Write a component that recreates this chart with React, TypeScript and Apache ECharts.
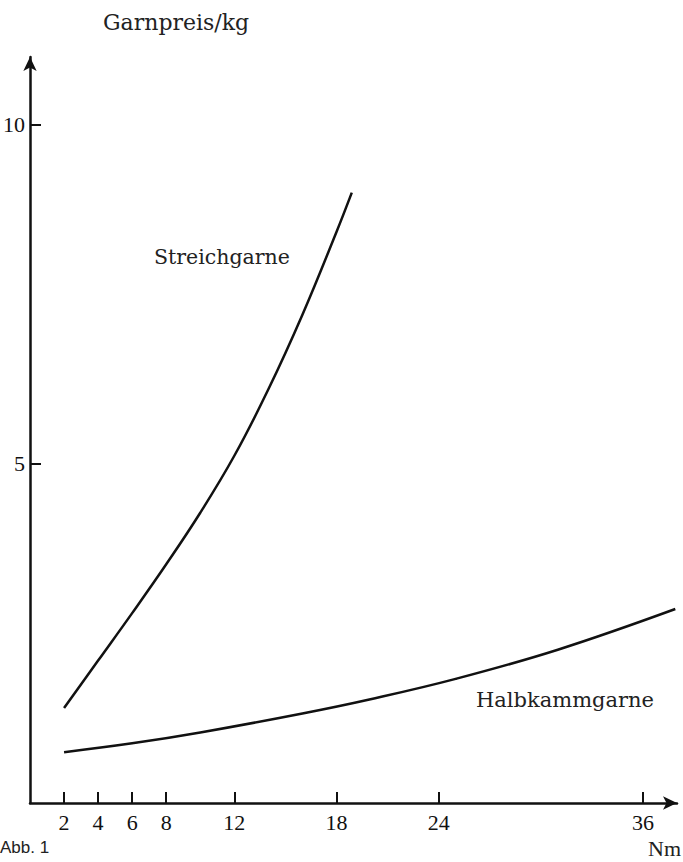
import React, { useEffect, useRef } from "react";
import * as echarts from "echarts";

const xTicks = [2, 4, 6, 8, 12, 18, 24, 36];
const yTicks = [5, 10];

const streichX = [2, 4, 6, 8, 10, 12, 14, 16, 18, 18.9];
const streichY = [1.4, 2.1, 2.8, 3.52, 4.28, 5.12, 6.1, 7.2, 8.42, 9.0];

const halbX = [2, 6, 10, 16, 20, 25, 31, 37.9];
const halbY = [0.75, 0.88, 1.04, 1.32, 1.53, 1.83, 2.26, 2.86];

const yTitle = "Garnpreis/kg";
const xTitle = "Nm";
const figLabel = "Abb. 1";
const streichName = "Streichgarne";
const halbName = "Halbkammgarne";

const SERIF = "'Liberation Serif', 'Times New Roman', serif";
const SLAB = "'DejaVu Serif', serif";

export default function App() {
  const ref = useRef<HTMLDivElement>(null);
  useEffect(() => {
    if (!ref.current) return;
    const chart = echarts.init(ref.current, null, { renderer: "svg" });
    const axisLine = { show: true, lineStyle: { color: "#111", width: 2.5 } };
    chart.setOption({
      animation: false,
      backgroundColor: "#fff",
      grid: {
        left: 30,
        right: 6,
        top: 57,
        bottom: 59,
        containLabel: false,
        outerBoundsMode: "none",
      },
      xAxis: {
        type: "value",
        min: 0,
        max: 38,
        splitLine: { show: false },
        axisLine: { ...axisLine, symbol: ["none", "arrow"], symbolSize: [10, 14] },
        axisTick: {
          show: true,
          inside: true,
          length: 11,
          lineStyle: { color: "#111", width: 2 },
          customValues: xTicks,
        },
        axisLabel: {
          customValues: xTicks,
          margin: 8,
          fontFamily: SERIF,
          fontSize: 22,
          color: "#111",
        },
      },
      yAxis: {
        type: "value",
        min: 0,
        max: 11,
        splitLine: { show: false },
        axisLine: { ...axisLine, symbol: ["none", "arrow"], symbolSize: [10, 14] },
        axisTick: {
          show: true,
          inside: true,
          length: 11,
          lineStyle: { color: "#111", width: 2 },
          customValues: yTicks,
        },
        axisLabel: {
          customValues: yTicks,
          margin: 5,
          fontFamily: SERIF,
          fontSize: 22,
          color: "#111",
        },
      },
      series: [
        {
          type: "line",
          name: streichName,
          data: streichX.map((x, i) => [x, streichY[i]]),
          smooth: 0.4,
          showSymbol: false,
          lineStyle: { color: "#111", width: 2.5 },
        },
        {
          type: "line",
          name: halbName,
          data: halbX.map((x, i) => [x, halbY[i]]),
          smooth: 0.4,
          showSymbol: false,
          lineStyle: { color: "#111", width: 2.5 },
        },
      ],
      graphic: [
        {
          type: "text",
          left: 103,
          top: 11,
          style: { text: yTitle, font: `22px ${SLAB}`, fill: "#222" },
        },
        {
          type: "text",
          left: 154,
          top: 246,
          style: { text: streichName, font: `20.5px ${SLAB}`, fill: "#222" },
        },
        {
          type: "text",
          left: 476,
          top: 689,
          style: { text: halbName, font: `21px ${SLAB}`, fill: "#222" },
        },
        {
          type: "text",
          left: 0,
          top: 839,
          style: { text: figLabel, font: `17px 'Liberation Sans', Arial, sans-serif`, fill: "#222" },
        },
        {
          type: "text",
          right: 2,
          top: 837,
          style: { text: xTitle, font: `22px ${SERIF}`, fill: "#222" },
        },
      ],
    });
    return () => chart.dispose();
  }, []);
  return (
    <div
      ref={ref}
      style={{ position: "fixed", left: 0, top: 0, width: 683, height: 862, background: "#fff" }}
    />
  );
}
